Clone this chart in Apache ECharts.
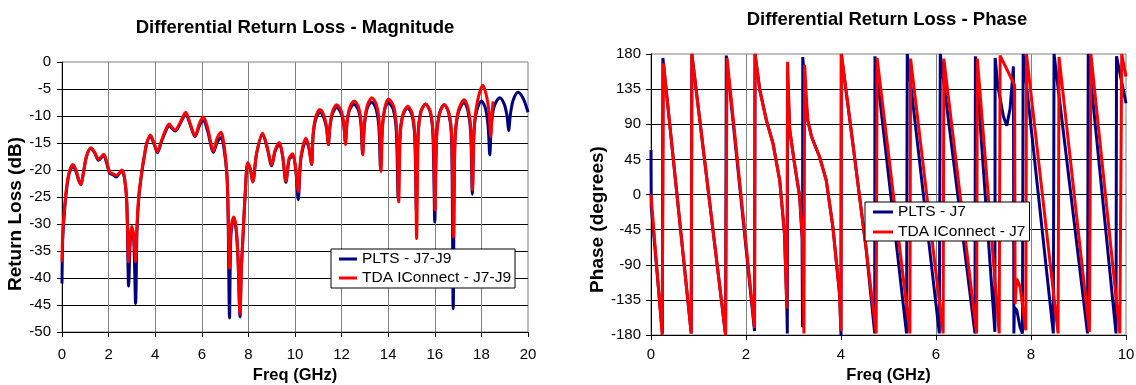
<!DOCTYPE html>
<html>
<head>
<meta charset="utf-8">
<script src="https://cdn.jsdelivr.net/npm/echarts@6/dist/echarts.min.js"></script>
<style>
  html, body { margin: 0; padding: 0; background: #fff; }
  #chart { width: 1136px; height: 385px; }
</style>
</head>
<body>
<div id="chart"></div>
<script>
// magnitude data, [GHz, dB]
const magPlts = [
    [0.00,-41],[0.03,-33],[0.10,-28],[0.20,-23.5],[0.32,-20.5],[0.47,-19.3],[0.60,-20.3],[0.72,-22],[0.81,-22.7],
    [0.92,-20.5],[1.05,-17.5],[1.24,-16],[1.40,-16.8],[1.57,-18.2],[1.79,-17.3],[1.92,-18.8],[2.05,-20.6],
    [2.20,-20.9],[2.33,-21.3],[2.45,-20.7],[2.57,-20.2],[2.68,-21.5],[2.78,-26],[2.86,-41.5],[2.93,-33],
    [3.00,-30.7],[3.08,-33],[3.16,-44.7],[3.22,-31],[3.30,-25],[3.43,-20.3],[3.55,-17],[3.64,-15],[3.79,-13.8],
    [3.95,-15.2],[4.10,-16.8],[4.25,-15],[4.45,-12.8],[4.60,-11.8],[4.72,-12.3],[4.86,-12.8],[5.05,-11.6],
    [5.31,-9.7],[5.50,-11.6],[5.71,-13.8],[5.90,-11.8],[6.07,-10.9],[6.25,-12.8],[6.50,-16.7],[6.65,-15],
    [6.83,-14],[6.95,-16],[7.07,-20.5],[7.12,-26],[7.19,-47.4],[7.25,-32],[7.37,-29],[7.47,-31],[7.55,-36],
    [7.64,-47.2],[7.70,-38],[7.76,-33],[7.86,-24.6],[7.97,-18.7],[8.08,-19.8],[8.19,-22.2],[8.35,-17],
    [8.61,-13.4],[8.80,-15.8],[9.00,-19.2],[9.15,-16.5],[9.33,-15.2],[9.47,-17.5],[9.61,-22.3],[9.75,-18],
    [9.90,-17.5],[10.02,-19.5],[10.14,-25.5],[10.25,-18],[10.47,-14.6],[10.60,-16],[10.71,-19],
    [10.78,-13.5],[10.89,-10.6],[11.07,-9.3],[11.25,-10.5],[11.36,-12.5],[11.43,-15.3],
    [11.50,-12],[11.61,-9.6],[11.79,-8.4],[11.98,-9.5],[12.09,-11.5],[12.16,-14.7],
    [12.23,-11.2],[12.34,-8.9],[12.53,-7.8],[12.72,-8.9],[12.83,-11.5],[12.90,-17],
    [12.97,-12],[13.09,-8.7],[13.29,-7.4],[13.48,-8.7],[13.60,-12],[13.67,-19.8],
    [13.74,-12.5],[13.85,-8.8],[14.00,-7.5],[14.22,-8.8],[14.35,-13],[14.43,-25.3],
    [14.50,-14],[14.62,-10],[14.83,-8.5],[15.02,-9.8],[15.14,-14],[15.21,-27.5],
    [15.28,-13.5],[15.40,-9.2],[15.60,-7.8],[15.80,-9.2],[15.92,-13.5],[16.00,-29.6],
    [16.07,-14],[16.20,-9.5],[16.40,-7.9],[16.60,-9.5],[16.72,-14],[16.79,-45.7],
    [16.86,-15],[17.00,-9.5],[17.26,-7.5],[17.42,-9],[17.54,-13],[17.61,-24.5],
    [17.68,-13],[17.80,-9],[18.00,-7.2],[18.18,-8.7],[18.29,-12],[18.36,-17.2],
    [18.43,-11.5],[18.55,-8.2],[18.79,-6.6],[18.98,-7.8],[19.10,-10],[19.17,-12.7],
    [19.25,-9.5],[19.37,-7],[19.57,-5.6],[19.80,-6.8],[20.00,-9.3]
]
const magTda = [
    [0.00,-37],[0.03,-32],[0.10,-27.5],[0.20,-23],[0.32,-20.2],[0.47,-19],[0.60,-20],[0.72,-21.8],[0.81,-22.7],
    [0.92,-20.5],[1.05,-17.5],[1.24,-15.9],[1.40,-16.7],[1.57,-18],[1.79,-17.1],[1.92,-18.5],[2.05,-20.4],
    [2.20,-20.7],[2.33,-21],[2.45,-20.6],[2.57,-20],[2.68,-21.3],[2.78,-26],[2.86,-37],[2.93,-32],
    [3.00,-30.4],[3.08,-32.5],[3.16,-37],[3.22,-30],[3.30,-24.5],[3.43,-20.2],[3.55,-17],[3.64,-15],[3.79,-13.5],
    [3.95,-15],[4.10,-16.6],[4.25,-14.8],[4.45,-12.5],[4.60,-11.5],[4.72,-12.1],[4.86,-12.6],[5.05,-11.4],
    [5.31,-9.3],[5.50,-11.4],[5.71,-13.7],[5.90,-11.3],[6.07,-10.2],[6.25,-12.2],[6.50,-16.5],[6.65,-14.2],
    [6.83,-13],[6.95,-15.2],[7.07,-20.2],[7.12,-26],[7.19,-38.2],[7.25,-31],[7.37,-28.7],[7.47,-30.5],[7.55,-36],
    [7.64,-46.6],[7.70,-38],[7.76,-33],[7.86,-24.6],[7.97,-18.7],[8.08,-19.8],[8.19,-22.2],[8.35,-17],
    [8.61,-13.2],[8.80,-15.6],[9.00,-19],[9.15,-16.3],[9.33,-14.9],[9.47,-17.3],[9.61,-22],[9.75,-17.8],
    [9.90,-17],[10.02,-19.3],[10.14,-24],[10.25,-17.7],[10.47,-14.1],[10.60,-15.8],[10.71,-19],
    [10.78,-13.2],[10.89,-10.2],[11.07,-8.8],[11.25,-10],[11.36,-12.2],[11.43,-15.3],
    [11.50,-11.8],[11.61,-9.2],[11.79,-7.9],[11.98,-9],[12.09,-11.3],[12.17,-15.3],
    [12.24,-11],[12.35,-8.4],[12.54,-7.2],[12.73,-8.4],[12.84,-11.3],[12.91,-17.2],
    [12.98,-11.6],[13.10,-8.1],[13.30,-6.6],[13.50,-8],[13.62,-11.5],[13.69,-20.3],
    [13.76,-12],[13.87,-8.2],[14.02,-6.9],[14.24,-8.3],[14.37,-12.8],[14.45,-25.9],
    [14.52,-13.5],[14.64,-9.6],[14.84,-8.2],[15.03,-9.5],[15.15,-14],[15.22,-32.7],
    [15.29,-13.5],[15.41,-9.2],[15.61,-7.8],[15.81,-9.2],[15.93,-13.5],[16.01,-27.4],
    [16.08,-14],[16.21,-9.5],[16.41,-7.9],[16.61,-9.5],[16.73,-14],[16.80,-32.4],
    [16.87,-14.5],[17.01,-9],[17.26,-7],[17.43,-8.6],[17.55,-12.8],[17.62,-23.7],
    [17.69,-12.5],[17.82,-7.5],[18.07,-4.3],[18.23,-6.5],[18.33,-9.5],[18.40,-13.8],
    [18.46,-9.5],[18.50,-7.3]
]

// phase data, [GHz, degrees]
const phasePlts = [
    [0,57],[0.005,-15],[0.24,-178],[0.25,175],[0.847,-178],[0.86,180],[1.57,-180],[1.585,178],[2.18,-175],
    [2.19,180],[2.29,134],[2.43,95],[2.57,65],[2.71,18],[2.81,-50],[2.86,-144],[2.87,-178],[2.875,155],
    [2.92,83],[3.02,40],[3.13,-3],[3.18,-55],[3.19,-170],[3.195,176],[3.25,130],[3.30,95],[3.38,74],
    [3.55,48],[3.69,18],[3.83,-42],[3.97,-128],[4.0,-180],[4.005,180],[4.25,65],[4.53,-70],[4.71,-178],
    [4.715,177],[5.38,-178],[5.395,180],[6.07,-178],[6.09,180],[6.82,-178],[6.83,177],[7.24,-176],
    [7.245,175],[7.30,140],[7.42,100],[7.49,88],[7.56,110],[7.63,164],[7.64,-178],[7.65,-145],[7.70,-148],
    [7.77,-170],[7.82,-178],[7.835,180],[8.47,-178],[8.485,180],[9.19,-178],[9.205,180],[9.79,-178],
    [9.80,177],[10.0,117]
]
const phaseTda = [
    [0,0],[0.235,-180],[0.263,168],[0.847,-178],[0.86,180],[1.57,-180],[1.60,175],[2.18,-171],[2.19,180],
    [2.29,134],[2.43,95],[2.57,65],[2.71,18],[2.81,-50],[2.86,-146],[2.875,170],[2.92,83],[3.02,40],
    [3.13,-3],[3.19,-58],[3.22,-178],[3.235,166],[3.27,125],[3.30,95],[3.38,74],[3.55,48],[3.69,18],
    [3.83,-42],[3.97,-128],[4.0,-175],[4.01,180],[4.25,65],[4.53,-70],[4.74,-178],[4.76,175],[5.45,-178],
    [5.465,174],[6.15,-178],[6.165,174],[6.855,-178],[6.87,174],[7.33,-178],[7.35,178],[7.655,140],
    [7.665,-140],[7.70,-108],[7.77,-118],[7.89,-174],[7.905,180],[8.57,-178],[8.59,176],[9.23,-176],
    [9.26,180],[9.87,-178],[9.91,180],[10.0,151]
]

// axis ranges [min, max, step]
const magFreqAxis = [0, 20, 2]
const magDbAxis = [-50, 0, 5]
const phaseFreqAxis = [0, 10, 2]
const phaseDegAxis = [-180, 180, 45]

const FONT = 'Liberation Sans, Arial, sans-serif'
const BLUE = '#000080'
const RED = '#ff0000'

function axis(grid, range, name, nameGap, nameSize, labelMargin, split, padding) {
    return {
        type: 'value',
        gridIndex: grid,
        min: range[0],
        max: range[1],
        interval: range[2],
        name: name,
        nameLocation: 'middle',
        nameGap: nameGap,
        nameTextStyle: { fontFamily: FONT, fontSize: nameSize, fontWeight: 'bold', color: '#000', padding: padding || 0 },
        axisLine: { show: true, onZero: false, lineStyle: { color: '#000', width: 1 } },
        axisTick: { show: true, inside: false, length: 5, lineStyle: { color: '#000', width: 1 } },
        axisLabel: { margin: labelMargin, fontFamily: FONT, fontSize: 15, color: '#000' },
        // the plot frame stays grey, so no split line on the max edge
        splitLine: { show: true, showMaxLine: false, lineStyle: { color: split, width: 1 } }
    }
}

function line(name, data, color, xi, smooth) {
    return {
        type: 'line',
        name: name,
        xAxisIndex: xi,
        yAxisIndex: xi,
        data: data,
        smooth: smooth,
        symbol: 'none',
        showSymbol: false,
        lineStyle: { color: color, width: 3 },
        itemStyle: { color: color },
        animation: false
    }
}

function legend(names, left, top, iconW, gap, padding) {
    return {
        data: names,
        orient: 'vertical',
        left: left,
        top: top,
        icon: 'rect',
        itemWidth: iconW,
        itemHeight: 3,
        itemGap: gap,
        padding: padding,
        backgroundColor: '#fff',
        borderColor: '#000',
        borderWidth: 1,
        borderRadius: 0,
        selectedMode: false,
        textStyle: { fontFamily: FONT, fontSize: 15.5, color: '#000' }
    }
}

let option = {
    backgroundColor: '#fff',
    animation: false,
    title: [
        {
            text: 'Differential Return Loss - Magnitude',
            left: 290, top: 13, textAlign: 'center',
            textStyle: { fontFamily: FONT, fontSize: 18.5, fontWeight: 'bold', color: '#000' }
        },
        {
            text: 'Differential Return Loss - Phase',
            left: 882, top: 5, textAlign: 'center',
            textStyle: { fontFamily: FONT, fontSize: 18.5, fontWeight: 'bold', color: '#000' }
        }
    ],
    grid: [
        { left: 62, top: 62, width: 466, height: 270, show: true, borderColor: '#808080', borderWidth: 1, outerBoundsMode: 'none' },
        { left: 651, top: 54, width: 475, height: 281, show: true, borderColor: '#808080', borderWidth: 1, outerBoundsMode: 'none' }
    ],
    legend: [
        legend(['PLTS - J7-J9', 'TDA IConnect - J7-J9'], 331, 249, 18, 3, [2, 4, 2, 8]),
        legend(['PLTS - J7', 'TDA IConnect - J7'], 865, 202, 20, 4, [2, 4, 1, 8])
    ],
    xAxis: [
        axis(0, magFreqAxis, 'Freq (GHz)', 34, 16.5, 15, '#808080'),
        axis(1, phaseFreqAxis, 'Freq (GHz)', 32, 16.5, 12, '#808080')
    ],
    yAxis: [
        axis(0, magDbAxis, 'Return Loss (dB)', 27, 19, 11, '#000', [0, 34, 0, 0]),
        axis(1, phaseDegAxis, 'Phase (degrees)', 33, 19, 10, '#000', [0, 50, 0, 0])
    ],
    series: [
        line('PLTS - J7-J9', magPlts, BLUE, 0, 0.3),
        line('TDA IConnect - J7-J9', magTda, RED, 0, 0.3),
        line('PLTS - J7', phasePlts, BLUE, 1, false),
        line('TDA IConnect - J7', phaseTda, RED, 1, false)
    ]
}

let chart = echarts.init(document.getElementById('chart'))
chart.setOption(option)
</script>
</body>
</html>
